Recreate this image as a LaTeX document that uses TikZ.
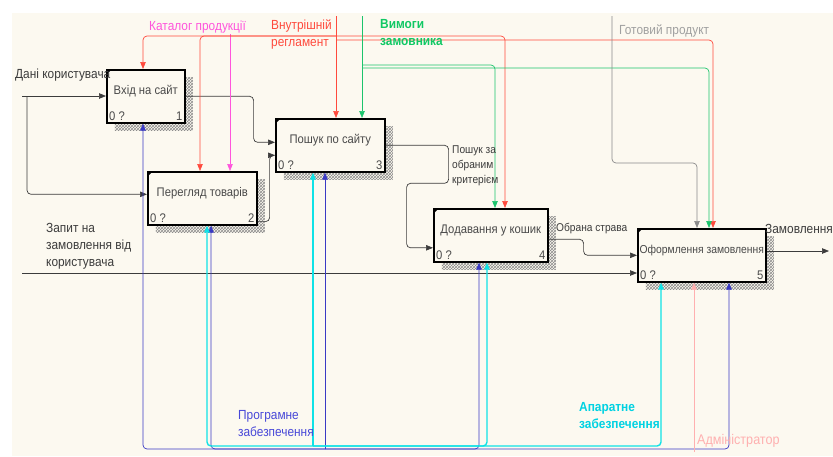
\documentclass[tikz,border=0pt]{standalone}
\usepackage{fontspec}
\setmainfont{Liberation Sans}[FakeStretch=0.9]
\usetikzlibrary{arrows.meta, positioning, shadows, patterns}

\definecolor{cream}{HTML}{FCF9F0}
\definecolor{ink}{HTML}{3C3C3C}
\definecolor{boxtext}{HTML}{4A4A4A}
\definecolor{ruleclr}{HTML}{FF4A3D}
\definecolor{catclr}{HTML}{FF55DC}
\definecolor{reqclr}{HTML}{1CC46C}
\definecolor{reqtxt}{HTML}{10C864}
\definecolor{prodclr}{HTML}{8A8A8A}
\definecolor{prodtxt}{HTML}{A0A0A0}
\definecolor{swclr}{HTML}{3A3AC4}
\definecolor{swtxt}{HTML}{4848D8}
\definecolor{hwclr}{HTML}{10E2E6}
\definecolor{hwtxt}{HTML}{00D2E2}
\definecolor{admclr}{HTML}{FFB0B0}

\newcommand{\boxfont}{\fontsize{12.5}{15}\selectfont}
\newcommand{\tagfont}{\fontsize{13.2}{17}\selectfont}

\tikzset{
    funcbox/.style={draw, line width=1.6pt, fill=cream, text=boxtext, font=\boxfont,
        anchor=north west, inner xsep=1pt, inner ysep=0pt,
        text height=25pt, text depth=28pt,
        general shadow={shadow xshift=8pt, shadow yshift=-8pt,
            pattern=crosshatch, pattern color=black!45},
        label={[corner, anchor=south west]south west:0 ?},
        label={[corner, anchor=south east]south east:#1}},
    corner/.style={inner sep=3pt, text=boxtext, font=\boxfont},
    flow/.style={-{Triangle[length=7pt, width=5.5pt]}, rounded corners=4pt, line width=0.7pt},
    tag/.style={inner sep=0pt, align=left, font=\tagfont},
    boldtag/.style={tag, font=\tagfont\bfseries},
    small/.style={font=\fontsize{11.3}{15}\selectfont},
}

\begin{document}
\begin{tikzpicture}[x=1pt, y=-1pt]
    \tikzset{
      every node/.append style={text=ink},
    }
    \useasboundingbox (0,0) rectangle (833,456);
    \fill[cream] (12,13) rectangle (833,456);

    % activities
    \node[funcbox=1, minimum width=78pt] (a1) at (106,69) {Вхід на сайт};
    \node[funcbox=2, minimum width=109pt] (a2) at (147,171) {Перегляд товарів};
    \node[funcbox=3, minimum width=109pt] (a3) at (275,118) {Пошук по сайту};
    \node[funcbox=4, minimum width=114pt] (a4) at (433,208) {Додавання у кошик};
    \node[funcbox=5, minimum width=128pt, font=\fontsize{11.5}{14}\selectfont] (a5) at (637,228) {Оформлення замовлення};
    \foreach \b in {a1,a2,a3,a4,a5}
      \fill (\b.north west) -- ++(6,0) -- ++(-6,6) -- cycle;

    % inputs and outputs
    \coordinate (userdata) at (22,96);
    \coordinate (userfork) at (27,96);
    \coordinate (request) at (22,273);
    \coordinate (order) at (829,251);
    \draw[flow, ink] (userdata) -- (userdata -| a1.west);
    \draw[flow, ink] (userfork) |- ([yshift=4pt]a2.west);
    \draw[flow, ink] (a1.east) -- ++(68,0) |- ([yshift=3pt]a3.west);
    \draw[flow, ink] ([yshift=4pt]a2.south east) -- ++(12,0) |- ([yshift=-10pt]a3.west);
    \draw[flow, ink] (a3.east) -- ++(63,0) -- ++(0,38) -- ++(-42,0) |- ([yshift=-12.5pt]a4.west);
    \draw[flow, ink] ([yshift=-4pt]a4.east) -- ++(35,0) |- (a5.west);
    \draw[flow, ink] (request) -- (request -| a5.west);
    \draw[flow, ink] (order -| a5.east) -- (order);

    % controls
    \coordinate (catalog) at (230,34);
    \coordinate (rules) at (336,16);
    \coordinate (rulesfork) at (336,36);
    \coordinate (wishes) at (362,16);
    \coordinate (wishfork) at (362,65);
    \coordinate (product) at (612,16);
    \draw[flow, catclr] (catalog) -- (catalog |- a2.north);
    \draw[flow, ruleclr] (rules) -- (rules |- a3.north);
    \draw[flow, ruleclr] (rulesfork) -| ([xshift=37pt]a1.north west);
    \draw[flow, ruleclr] (rulesfork) -| ([xshift=53pt]a2.north west);
    \draw[flow, ruleclr] (rulesfork) -| ([xshift=72pt]a4.north west);
    \draw[flow, ruleclr] ([yshift=-4pt]rulesfork) -| ([xshift=76pt]a5.north west);
    \draw[flow, reqclr] (wishes) -- (wishes |- a3.north);
    \draw[flow, reqclr] (wishfork) -| ([xshift=62pt]a4.north west);
    \draw[flow, reqclr] ([yshift=-3pt]wishfork) -| ([xshift=72pt]a5.north west);
    \draw[flow, prodclr] (product) -- ++(0,147) -| ([xshift=60pt]a5.north west);

    % mechanisms
    \coordinate (software) at (325,449);
    \coordinate (hardware) at (313,446);
    \coordinate (admin) at (694,452);
    \draw[flow, swclr] (software) -- (software |- a3.south);
    \draw[flow, swclr] (software) -| ([xshift=37pt]a1.south west);
    \draw[flow, swclr] (software) -| ([xshift=64pt]a2.south west);
    \draw[flow, swclr] (software) -| ([xshift=46pt]a4.south west);
    \draw[flow, swclr] (software) -| ([xshift=92pt]a5.south west);
    \draw[flow, hwclr, line width=1.4pt] (hardware) -- (hardware |- a3.south);
    \draw[flow, hwclr, line width=1.4pt] (hardware) -| ([xshift=60pt]a2.south west);
    \draw[flow, hwclr, line width=1.4pt] (hardware) -| ([xshift=54pt]a4.south west);
    \draw[flow, hwclr, line width=1.4pt] (hardware) -| ([xshift=24pt]a5.south west);
    \draw[flow, admclr] (admin) -- (admin |- a5.south);

    % arrow labels
    \node[tag, anchor=west] (userlbl) at (15,75) {Дані користувача};
    \node[tag, anchor=north west] (reqlbl) at (46,223) {Запит на\\замовлення від\\користувача};
    \node[tag, text=catclr, anchor=west] (catlbl) at (149,27) {Каталог продукції};
    \node[tag, text=ruleclr, anchor=north west] (ruleslbl) at (271,19) {Внутрішній\\регламент};
    \node[boldtag, text=reqtxt, anchor=north west] (wishlbl) at (380,19) {Вимоги\\замовника};
    \node[tag, text=prodtxt, anchor=west] (prodlbl) at (619,31) {Готовий продукт};
    \node[tag, small, anchor=north west] (critlbl) at (452,146) {Пошук за\\обраним\\критерієм};
    \node[tag, small, anchor=west] (dishlbl) at (556,229) {Обрана страва};
    \node[tag, anchor=west] (orderlbl) at (765,229) {Замовлення};
    \node[tag, text=swtxt, anchor=north west] (swlbl) at (238,410) {Програмне\\забезпечення};
    \node[boldtag, text=hwtxt, anchor=north west] (hwlbl) at (579,402) {Апаратне\\забезпечення};
    \node[tag, text=admclr, font=\fontsize{14}{17}\selectfont, anchor=west] (adminlbl) at (697,441) {Адміністратор};
\end{tikzpicture}
\end{document}
